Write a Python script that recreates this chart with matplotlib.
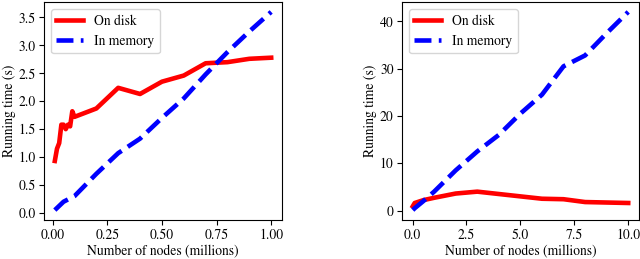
import matplotlib
matplotlib.use("Agg")
import matplotlib.pyplot as plt

plt.rcParams['font.family'] = ['STIXGeneral', 'DejaVu Serif']
plt.rcParams['mathtext.fontset'] = 'stix'
plt.rcParams['font.size'] = 9.8
plt.rcParams['xtick.major.pad'] = 2.5
plt.rcParams['ytick.major.pad'] = 2.5
plt.rcParams['axes.labelpad'] = 2

# --- data: small graphs (up to 1M nodes) ---
small_nodes = [0.01, 0.02, 0.03, 0.04, 0.05, 0.06, 0.07, 0.08, 0.09, 0.1,
               0.2, 0.3, 0.4, 0.5, 0.6, 0.7, 0.8, 0.9, 1.0]
small_disk = [0.93, 1.15, 1.25, 1.58, 1.58, 1.5, 1.58, 1.55, 1.82, 1.72,
              1.87, 2.24, 2.13, 2.35, 2.46, 2.68, 2.70, 2.76, 2.78]
small_mem_nodes = [0.01, 0.05, 0.1, 0.2, 0.3, 0.4, 0.5, 0.6, 0.7, 0.8, 0.9, 1.0]
small_mem = [0.05, 0.2, 0.3, 0.7, 1.07, 1.33, 1.7, 2.05, 2.48, 2.88, 3.25, 3.6]

# --- data: large graphs (up to 10M nodes) ---
large_nodes = [0.01, 0.1, 0.5, 1, 2, 3, 4, 5, 6, 7, 8, 9, 10]
large_disk = [0.9, 1.6, 2.2, 2.7, 3.6, 4.0, 3.5, 3.0, 2.5, 2.4, 1.8, 1.7, 1.6]
large_mem = [0.1, 0.5, 2.0, 4.0, 8.5, 12.5, 16.0, 20.5, 24.5, 30.5, 32.8, 37.5, 42.0]

small_yticks = [0.0, 0.5, 1.0, 1.5, 2.0, 2.5, 3.0, 3.5]
large_yticks = [0, 10, 20, 30, 40]

fig = plt.figure(figsize=(6.4, 2.59), dpi=100)
ax1 = fig.add_axes([44/640, 1 - 220/259, 238/640, 218/259])
ax2 = fig.add_axes([402/640, 1 - 220/259, 237/640, 218/259])

ax1.plot(small_nodes, small_disk, color='red', lw=3.3, label='On disk')
ax1.plot(small_mem_nodes, small_mem, color='blue', lw=3.3, ls='--', label='In memory')
ax1.set_xticks([0.0, 0.25, 0.5, 0.75, 1.0])
ax1.set_xticklabels(['0.00', '0.25', '0.50', '0.75', '1.00'])
ax1.set_yticks(small_yticks)
ax1.set_yticklabels(['%.1f' % v for v in small_yticks])
ax1.set_xlabel('Number of nodes (millions)')
ax1.set_ylabel('Running time (s)')
ax1.legend(loc='upper left')

ax2.plot(large_nodes, large_disk, color='red', lw=3.3, label='On disk')
ax2.plot(large_nodes, large_mem, color='blue', lw=3.3, ls='--', label='In memory')
ax2.set_xticks([0.0, 2.5, 5.0, 7.5, 10.0])
ax2.set_yticks(large_yticks)
ax2.set_xlabel('Number of nodes (millions)')
ax2.set_ylabel('Running time (s)')
ax2.legend(loc='upper left')

fig.savefig('out.png', dpi=100)
